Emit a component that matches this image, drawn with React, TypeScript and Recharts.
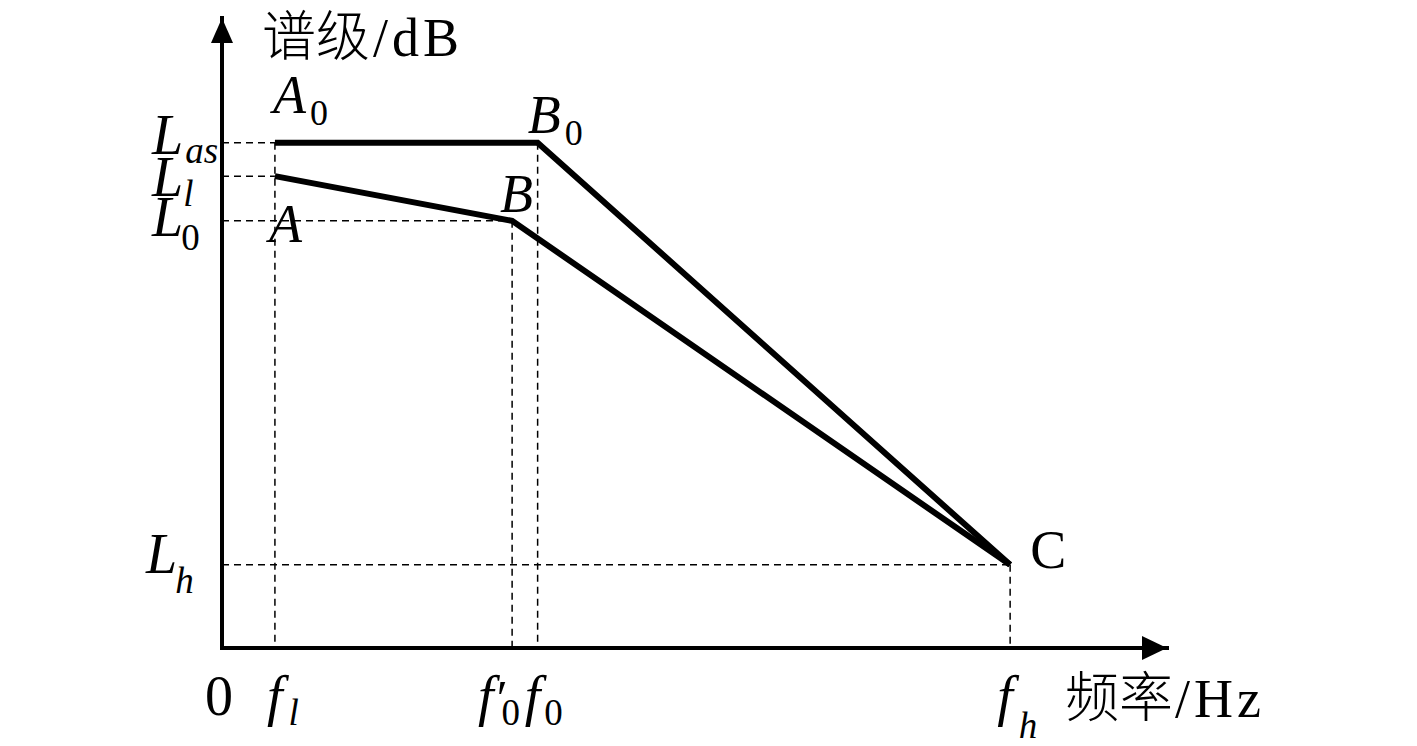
import { ComposedChart, Line, XAxis, YAxis, ReferenceLine, ReferenceDot } from 'recharts';

// frequencies on the x axis: f_l, f0', f0, f_h
const freqValues = [5.6, 30.7, 33.4, 83.4];
const freqSubs = ['l', '0', '0', 'h'];
const freqPrimes = [false, true, false, false];
const freqDashTop = [80.2, 67.8, 80.2, 13.2];

// levels on the y axis: L_as, L_l, L_0, L_h
const levelValues = [80.2, 74.9, 67.8, 13.2];
const levelSubs = ['as', 'l', '0', 'h'];
const levelDashEnd = [5.6, 5.6, 30.7, 83.4];

// the two spectrum curves A0-B0-C and A-B-C
const upperX = [5.6, 33.4, 83.4];
const upperY = [80.2, 80.2, 13.2];
const lowerX = [5.6, 30.7, 83.4];
const lowerY = [74.9, 67.8, 13.2];

// point labels
const pointNames = ['A', 'B', 'A', 'B', 'C'];
const pointSubs = ['0', '0', '', '', ''];
const pointX = [5.6, 33.4, 5.6, 30.7, 83.4];
const pointY = [80.2, 80.2, 74.9, 67.8, 13.2];

const upper = upperX.map((x, i) => ({ x, y: upperY[i] }));
const lower = lowerX.map((x, i) => ({ x, y: lowerY[i] }));

const SERIF = "'Liberation Serif', 'Times New Roman', serif";
const CJK = "'Noto Sans CJK SC', sans-serif";

const levelStyle: Record<string, { dy: number; sdy: number; sdx: number }> = {
  as: { dy: 11, sdy: 9, sdx: 2 },
  l: { dy: 20, sdy: 10, sdx: 0 },
  '0': { dy: 15, sdy: 14, sdx: -2 },
  h: { dy: 8, sdy: 20, sdx: -2 },
};

function YTick(props: any) {
  const { y, payload } = props;
  const i = levelValues.indexOf(payload.value);
  const sub = levelSubs[i];
  const st = levelStyle[sub];
  const italicSub = sub !== '0';
  return (
    <text x={sub === 'h' ? 146 : 152} y={y + st.dy} fontFamily={SERIF} fontSize={56} fill="#000">
      <tspan fontStyle="italic">L</tspan>
      <tspan dx={st.sdx} dy={st.sdy} fontSize={37} fontStyle={italicSub ? 'italic' : 'normal'}>
        {sub}
      </tspan>
    </text>
  );
}

const freqDx = [-8, -34, -13, -13];
const freqSdx = [6, -6, 4, 6];
const freqSdy = [10, 10, 10, 23];

function XTick(props: any) {
  const { x, payload } = props;
  const y = 648;
  if (payload.value === 0) {
    return (
      <text x={x - 17} y={y + 67} fontFamily={SERIF} fontSize={56} fill="#000">
        0
      </text>
    );
  }
  const i = freqValues.indexOf(payload.value);
  const sub = freqSubs[i];
  return (
    <text x={x + freqDx[i]} y={y + 67} fontFamily={SERIF} fontSize={56} fill="#000">
      <tspan fontStyle="italic">f</tspan>
      {freqPrimes[i] && (
        <tspan dx={3} fontSize={50}>
          ′
        </tspan>
      )}
      <tspan
        dx={freqSdx[i]}
        dy={freqSdy[i]}
        fontSize={37}
        fontStyle={sub === '0' ? 'normal' : 'italic'}
      >
        {sub}
      </tspan>
    </text>
  );
}

const pointOffsets = [
  { dx: -2, dy: -30 },
  { dx: -10, dy: -10 },
  { dx: -6, dy: 66 },
  { dx: -12, dy: -9 },
  { dx: 20, dy: 3 },
];

function PointLabel(i: number) {
  return (props: any) => {
    const { cx, cy } = props;
    const o = pointOffsets[i];
    const upright = pointNames[i] === 'C';
    return (
      <text x={cx + o.dx} y={cy + o.dy} fontFamily={SERIF} fontSize={54} fill="#000">
        <tspan fontStyle={upright ? 'normal' : 'italic'}>{pointNames[i]}</tspan>
        {pointSubs[i] && (
          <tspan dx={4} dy={12} fontSize={36}>
            {pointSubs[i]}
          </tspan>
        )}
      </text>
    );
  };
}

function XArrow(props: any) {
  const { cx, cy } = props;
  return (
    <g>
      <polygon points={`${cx},${cy} ${cx - 25},${cy - 12} ${cx - 25},${cy + 12}`} fill="#000" />
      <text x={cx - 102} y={cy + 69} fontSize={54} fill="#000">
        <tspan fontFamily={CJK} fontWeight={300}>频率</tspan>
        <tspan fontFamily={SERIF} dx={2} letterSpacing={4}>/Hz</tspan>
      </text>
    </g>
  );
}

function YArrow(props: any) {
  const { cx, cy } = props;
  return (
    <g>
      <polygon points={`${cx},${cy} ${cx - 11},${cy + 25} ${cx + 11},${cy + 25}`} fill="#000" />
      <text x={cx + 40} y={cy + 38} fontSize={54} fill="#000">
        <tspan fontFamily={CJK} fontWeight={300}>谱级</tspan>
        <tspan fontFamily={SERIF} dx={3} letterSpacing={4}>/dB</tspan>
      </text>
    </g>
  );
}

const dashProps = { stroke: '#000', strokeWidth: 1.5, strokeDasharray: '7 5' };

export default function App() {
  return (
    <div style={{ position: 'absolute', left: 0, top: 0, background: '#fff' }}>
      <ComposedChart
        width={1417}
        height={746}
        margin={{ top: 18, right: 250, bottom: 78, left: 202 }}
      >
        <XAxis
          dataKey="x"
          type="number"
          domain={[0, 100]}
          ticks={[0, ...freqValues]}
          interval={0}
          height={20}
          tickLine={false}
          tickSize={0}
          tickMargin={0}
          tick={<XTick />}
          axisLine={{ stroke: '#000', strokeWidth: 4, strokeLinecap: 'square' }}
        />
        <YAxis
          type="number"
          domain={[0, 100]}
          ticks={levelValues}
          interval={0}
          width={20}
          tickLine={false}
          tickSize={0}
          tickMargin={0}
          tick={<YTick />}
          axisLine={{ stroke: '#000', strokeWidth: 4, strokeLinecap: 'square' }}
        />
        {levelValues.map((v, i) => (
          <ReferenceLine
            key={'h' + i}
            segment={[
              { x: 0, y: v },
              { x: levelDashEnd[i], y: v },
            ]}
            {...dashProps}
          />
        ))}
        {freqValues.map((v, i) => (
          <ReferenceLine
            key={'v' + i}
            segment={[
              { x: v, y: freqDashTop[i] },
              { x: v, y: 0 },
            ]}
            {...dashProps}
          />
        ))}
        <Line
          data={upper}
          dataKey="y"
          type="linear"
          stroke="#000"
          strokeWidth={6}
          dot={false}
          isAnimationActive={false}
        />
        <Line
          data={lower}
          dataKey="y"
          type="linear"
          stroke="#000"
          strokeWidth={6}
          dot={false}
          isAnimationActive={false}
        />
        {pointNames.map((_, i) => (
          <ReferenceDot key={'p' + i} x={pointX[i]} y={pointY[i]} r={0} shape={PointLabel(i)} />
        ))}
        <ReferenceDot x={100} y={0} r={0} shape={XArrow} />
        <ReferenceDot x={0} y={100} r={0} shape={YArrow} />
      </ComposedChart>
    </div>
  );
}
